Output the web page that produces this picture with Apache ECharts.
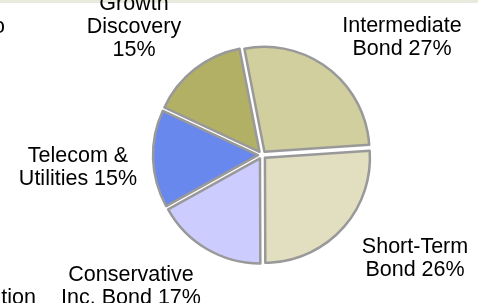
<!DOCTYPE html>
<html>
<head>
<meta charset="utf-8">
<script src="https://cdn.jsdelivr.net/npm/echarts@6/dist/echarts.min.js"></script>
<style>
  html, body { margin: 0; padding: 0; background: #fff; }
  #chart { width: 478px; height: 303px; }
</style>
</head>
<body>
<div id="chart"></div>
<script>
// 数据
var categories = ['Intermediate\nBond', 'Short-Term\nBond', 'Conservative\nInc. Bond', 'Telecom &\nUtilities', 'Growth\nDiscovery'];
var shares = [27, 26, 17, 15, 15];
var colors = ['#D2CF9E', '#E1DFC0', '#CCCCFF', '#6988EE', '#B2B064'];
// 标签中心位置（像素）
var labelPos = [[402, 38], [415, 259], [131, 287], [78, 168], [134, 27]];

var font = '21.5px "Liberation Sans", Arial';
var chart = echarts.init(document.getElementById('chart'));

// 标签用 graphic 文本绘制
var labels = categories.map(function (c, i) {
    return {
        type: 'text',
        x: labelPos[i][0],
        y: labelPos[i][1],
        style: {
            text: c + (i === 4 ? '\n' : ' ') + shares[i] + '%',
            font: font,
            lineHeight: 23,
            fill: '#000',
            align: 'center',
            verticalAlign: 'middle'
        }
    };
});

var option = {
    animation: false,
    backgroundColor: '#fff',
    graphic: [
        { type: 'rect', shape: { x: 0, y: 0, width: 478, height: 3 }, style: { fill: '#e9e9dd' } },
        { type: 'text', x: 5, y: 27, style: { text: 'o', font: font, fill: '#000', align: 'right', verticalAlign: 'middle' } },
        { type: 'text', x: 36, y: 298, style: { text: 'tion', font: font, fill: '#000', align: 'right', verticalAlign: 'middle' } }
    ].concat(labels),
    series: [{
        type: 'pie',
        center: [262, 155],
        radius: 105,
        startAngle: 101,
        selectedMode: 'multiple',
        selectedOffset: 4,
        itemStyle: { borderColor: '#999', borderWidth: 2.5 },
        select: { itemStyle: { borderColor: '#999', borderWidth: 2.5 } },
        emphasis: { disabled: true },
        label: { show: false },
        labelLine: { show: false },
        data: categories.map(function (c, i) {
            return { name: c, value: shares[i], selected: true, itemStyle: { color: colors[i] } };
        })
    }]
};

chart.setOption(option);
</script>
</body>
</html>
